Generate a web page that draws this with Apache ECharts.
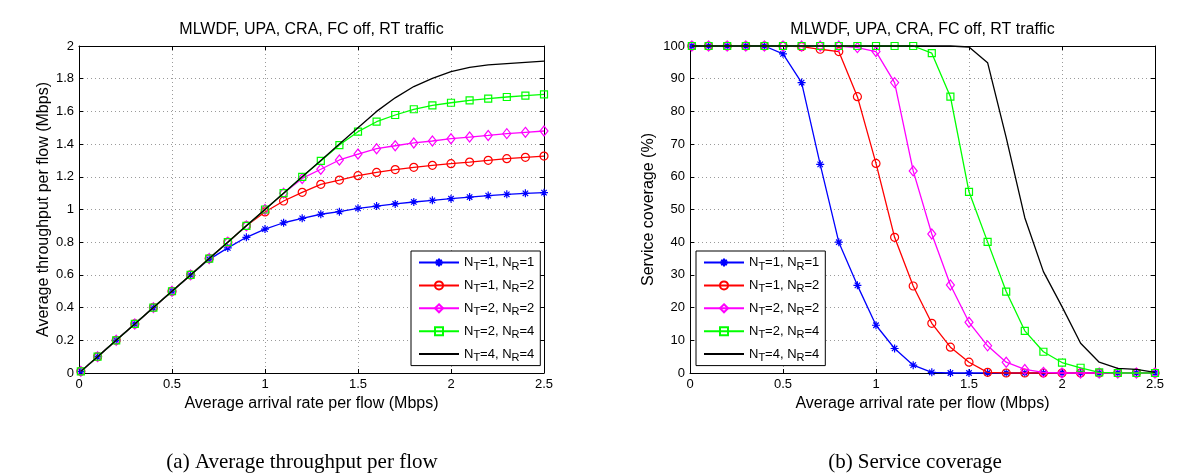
<!DOCTYPE html>
<html><head><meta charset="utf-8">
<script src="https://cdn.jsdelivr.net/npm/echarts@6/dist/echarts.min.js"></script>
<style>html,body{margin:0;padding:0;background:#fff}#c{width:1200px;height:475px}</style>
</head><body><div id="c"></div>
<script>
// ---------- data ----------
const arrivalRate = [0.01,0.1,0.2,0.3,0.4,0.5,0.6,0.7,0.8,0.9,1.0,1.1,1.2,1.3,1.4,1.5,1.6,1.7,1.8,1.9,2.0,2.1,2.2,2.3,2.4,2.5];
const seriesNames = ['NT=1, NR=1','NT=1, NR=2','NT=2, NR=2','NT=2, NR=4','NT=4, NR=4'];
const ntVals = ['1','1','2','2','4'];
const nrVals = ['1','2','2','4','4'];

// (a) Average throughput per flow (Mbps)
const thr11 = [0.01,0.1,0.2,0.3,0.4,0.5,0.6,0.695,0.765,0.83,0.88,0.919,0.946,0.971,0.987,1.007,1.021,1.034,1.046,1.056,1.066,1.076,1.085,1.093,1.099,1.103];
const thr12 = [0.01,0.1,0.2,0.3,0.4,0.5,0.6,0.7,0.8,0.9,0.985,1.052,1.105,1.154,1.18,1.207,1.227,1.244,1.258,1.27,1.28,1.29,1.301,1.311,1.319,1.327];
const thr22 = [0.01,0.1,0.2,0.3,0.4,0.5,0.6,0.7,0.8,0.9,1.0,1.1,1.19,1.246,1.303,1.339,1.372,1.39,1.407,1.419,1.433,1.443,1.453,1.464,1.472,1.48];
const thr24 = [0.01,0.1,0.2,0.3,0.4,0.5,0.6,0.7,0.8,0.9,1.0,1.1,1.2,1.297,1.394,1.476,1.537,1.578,1.613,1.637,1.653,1.668,1.678,1.688,1.696,1.704];
const thr44 = [0.01,0.1,0.2,0.3,0.4,0.5,0.6,0.7,0.8,0.9,1.0,1.1,1.2,1.3,1.4,1.5,1.6,1.683,1.752,1.802,1.843,1.869,1.884,1.892,1.9,1.908];

// (b) Service coverage (%)
const cov11 = [100,100,100,100,100,97.6,88.8,63.8,40.0,26.8,14.6,7.5,2.4,0.2,0,0,0,0,0,0,0,0,0,0,0,0];
const cov12 = [100,100,100,100,100,100,99.8,99.0,98.3,84.5,64.1,41.5,26.6,15.2,7.9,3.3,0.2,0,0,0,0,0,0,0,0,0];
const cov22 = [100,100,100,100,100,100,100,100,100,99.5,98.3,88.8,61.8,42.5,26.9,15.5,8.3,3.3,1.1,0.2,0,0,0,0,0,0];
const cov24 = [100,100,100,100,100,100,100,100,100,100,100,100,100,97.8,84.5,55.4,40.1,24.9,12.9,6.5,3.2,1.6,0.2,0,0,0];
const cov44 = [100,100,100,100,100,100,100,100,100,100,100,100,100,100,100,99.7,94.9,72,47.5,31,20.3,9.1,3.3,1.4,1.1,0.2];

const xAxisName = 'Average arrival rate per flow (Mbps)';
const titleText = 'MLWDF, UPA, CRA, FC off, RT traffic';
const captionA = '(a) Average throughput per flow';
const captionB = '(b) Service coverage';

// ---------- styles ----------
const FONT = '"Liberation Sans", Arial, Helvetica, sans-serif';
const SERIF = '"Liberation Serif", "Times New Roman", serif';
const asterisk = 'path://M5,0L5,10M0,5L10,5M1.6,1.6L8.4,8.4M1.6,8.4L8.4,1.6';
const styles = [
  {color:'#0000ff', symbol: asterisk, size: 8},
  {color:'#ff0000', symbol:'circle', size: 8},
  {color:'#ff00ff', symbol:'diamond', size:[8,10]},
  {color:'#00ff00', symbol:'rect', size: 7},
  {color:'#000000', symbol:'none', size: 0}
];

const chart = echarts.init(document.getElementById('c'));

function axisPair(gridIndex, dim, min, max, interval, name, nameGap) {
  const isX = dim === 'x';
  const main = {
    type:'value', gridIndex, min, max, interval,
    position: isX ? 'bottom' : 'left',
    axisLine:{show:true, onZero:false, lineStyle:{color:'#000', width:1}},
    axisTick:{show:true, inside:true, length:4, lineStyle:{color:'#000'}},
    axisLabel:{show:true, margin:5, fontSize:13, color:'#000', fontFamily:FONT},
    splitLine:{show:true, lineStyle:{color:'#9a9a9a', width:1, type:[1,3]}},
    name, nameLocation:'middle', nameGap,
    nameTextStyle:{fontSize:16, color:'#000', fontFamily:FONT}
  };
  const other = {
    type:'value', gridIndex, min, max, interval,
    position: isX ? 'top' : 'right',
    axisLine:{show:true, onZero:false, lineStyle:{color:'#000', width:1}},
    axisTick:{show:true, inside:true, length:4, lineStyle:{color:'#000'}},
    axisLabel:{show:false}, splitLine:{show:false}
  };
  return [main, other];
}

const xAxis = [
  ...axisPair(0,'x',0,2.5,0.5,xAxisName,20),
  ...axisPair(1,'x',0,2.5,0.5,xAxisName,20)
];
const yAxis = [
  ...axisPair(0,'y',0,2,0.2,'Average throughput per flow (Mbps)',19),
  ...axisPair(1,'y',0,100,10,'Service coverage (%)',33)
];

function mkSeries(idx, values, axisIdx) {
  const s = styles[idx];
  const hasSym = s.symbol !== 'none';
  return {
    type:'line', name: seriesNames[idx],
    xAxisIndex: axisIdx, yAxisIndex: axisIdx,
    data: arrivalRate.map((x,i)=>[x, values[i]]),
    symbol: s.symbol, symbolSize: s.size, showSymbol: hasSym,
    lineStyle:{color:s.color, width:1.3},
    itemStyle: hasSym
      ? {color:'rgba(0,0,0,0)', borderColor:s.color, borderWidth:1.2}
      : {color:'rgba(0,0,0,0)', borderColor:'rgba(0,0,0,0)', borderWidth:0},
    color: s.color,
    clip:false, silent:true, animation:false, z: 2 + idx,
    emphasis:{disabled:true}
  };
}

const thr = [thr11, thr12, thr22, thr24, thr44];
const cov = [cov11, cov12, cov22, cov24, cov44];
const series = [];
thr.forEach((v,i)=>series.push(mkSeries(i, v, 0)));
cov.forEach((v,i)=>series.push(mkSeries(i, v, 2)));

function legendCfg(left) {
  return {
    orient:'vertical', left, top:251,
    padding:[2,6,2,7], itemGap:3.9, itemWidth:40, itemHeight:10,
    backgroundColor:'#fff', borderColor:'#000', borderWidth:1,
    selectedMode:false, data: seriesNames,
    formatter: function(name){
      const i = seriesNames.indexOf(name);
      return '{n|N}{s|T}{n|=' + ntVals[i] + ', N}{s|R}{n|=' + nrVals[i] + '}';
    },
    textStyle:{
      color:'#000', fontFamily:FONT, lineHeight:16,
      rich:{
        n:{fontSize:13, lineHeight:16, color:'#000', fontFamily:FONT},
        s:{fontSize:11, lineHeight:8, padding:[8,0,0,0], color:'#000', fontFamily:FONT}
      }
    }
  };
}

const option = {
  backgroundColor:'#fff',
  animation:false,
  grid:[
    {left:79, top:46, width:465, height:327},
    {left:690, top:46, width:465, height:327}
  ],
  xAxis, yAxis, series,
  legend:[legendCfg(411), legendCfg(696)],
  graphic:[
    {type:'text', x:311.5, y:30, silent:true,
     style:{text:titleText, x:0, y:0, align:'center', verticalAlign:'middle', font:'16px ' + FONT, fill:'#000'}},
    {type:'text', x:922.5, y:30, silent:true,
     style:{text:titleText, x:0, y:0, align:'center', verticalAlign:'middle', font:'16px ' + FONT, fill:'#000'}},
    {type:'text', x:302, y:462, silent:true,
     style:{text:captionA, x:0, y:0, align:'center', verticalAlign:'middle', font:'21px ' + SERIF, fill:'#000'}},
    {type:'text', x:915, y:462, silent:true,
     style:{text:captionB, x:0, y:0, align:'center', verticalAlign:'middle', font:'21px ' + SERIF, fill:'#000'}}
  ]
};
chart.setOption(option);
</script></body></html>
